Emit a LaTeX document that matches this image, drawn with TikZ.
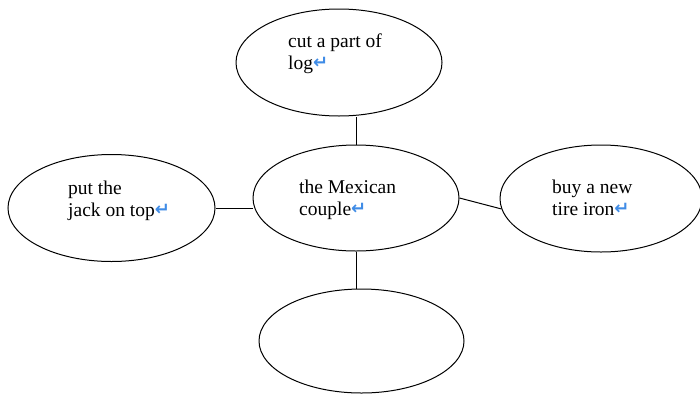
\documentclass[tikz,border=0pt]{standalone}
\usepackage{fontspec}
\setmainfont{Liberation Serif}
\newfontfamily\retfont{DejaVu Sans}
\usepackage{xcolor}
\definecolor{retBlue}{RGB}{64,140,230}
\usetikzlibrary{shapes.geometric, positioning}
\newcommand{\retmark}{{\retfont\bfseries\fontsize{18}{18}\selectfont\color{retBlue}\raisebox{1pt}{↵}}}

\begin{document}
\begin{tikzpicture}[x=1pt, y=-1pt,
  bubble/.style={ellipse, draw, line width=1pt, inner sep=0pt, minimum width=206pt, minimum height=107pt},
  words/.style={anchor=base west, align=left, inner sep=0pt, font=\fontsize{19.5}{22}\selectfont}]
  \useasboundingbox (0,0) rectangle (700,394);
  % bubbles
  \node[bubble] (cut) at (339,62.5) {};
  \node[bubble, minimum width=207pt] (jack) at (111.5,208) {};
  \node[bubble, minimum height=106pt] (couple) at (356,198) {};
  \node[bubble, minimum width=202pt] (iron) at (601,198.5) {};
  \node[bubble, minimum width=205pt, minimum height=104pt] (blank) at (361.5,341) {};
  % texts (base = last line)
  \node[words] (cutText) at (288,69) {cut a part of\\log\retmark};
  \node[words] (jackText) at (68,216) {put the\\jack on top\retmark};
  \node[words] (coupleText) at (299,215) {the Mexican\\couple\retmark};
  \node[words] (ironText) at (552,215) {buy a new\\tire iron\retmark};
  % links
  \draw[line width=1pt] (couple.north) -- (couple.north |- cut.south);
  \draw[line width=1pt] (jack.east) -- (jack.east -| couple.west);
  \draw[line width=1pt] (couple.east) -- (iron.186);
  \draw[line width=1pt] (couple.south) -- (couple.south |- blank.north);
\end{tikzpicture}
\end{document}
